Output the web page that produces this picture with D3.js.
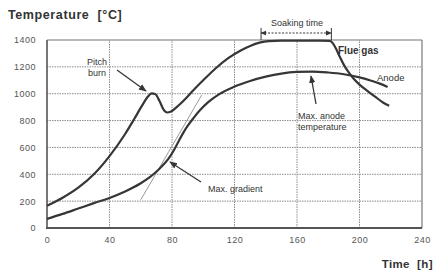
<!DOCTYPE html>
<html><head><meta charset="utf-8">
<script src="https://cdn.jsdelivr.net/npm/d3@7"></script>
<style>body{margin:0;background:#fff}svg{display:block;font-family:"Liberation Sans",Arial,sans-serif}text{white-space:pre}</style>
</head><body><svg id="c" width="435" height="276"></svg>
<script>
const xTicks = [0, 40, 80, 120, 160, 200, 240];
const yTicks = [0, 200, 400, 600, 800, 1000, 1200, 1400];
const flueT = [0,10,20,30,40,50,56,61,64,67,69.5,72,75,77,79,83,88,94,100,108,116,124,130,136,142,150,175,181,183,185,187,190,193,196,200,205,210,215,219];
const flueV = [165,225,300,400,535,700,815,915,970,1003,995,945,875,860,865,900,955,1030,1100,1190,1265,1322,1355,1380,1392,1395,1395,1393,1375,1335,1285,1215,1160,1115,1068,1022,978,935,910];
const anodeT = [0,10,20,30,40,50,60,66,71,75,78,81,84,87,90,94,98,103,110,120,130,140,150,160,170,180,190,200,208,213,218];
const anodeV = [68,105,145,185,224,272,333,380,430,478,520,575,640,705,760,822,878,935,995,1053,1095,1127,1150,1162,1165,1158,1145,1122,1095,1075,1050];
const tangentT = [60, 99];
const tangentV = [210, 990];
const soakT = [137, 182];

const svg = d3.select("#c");
const x = d3.scaleLinear().domain([0,240]).range([47,422]);
const y = d3.scaleLinear().domain([0,1400]).range([228,40]);
const ink = "#363636";

const g = svg.append("g");
g.selectAll(".vg").data(xTicks.slice(1,-1)).enter().append("line")
  .attr("x1",d=>x(d)).attr("x2",d=>x(d)).attr("y1",y(0)).attr("y2",y(1400))
  .attr("stroke","#8a8a8a").attr("stroke-width",1).attr("stroke-dasharray","1.5,1");
g.selectAll(".hg").data(yTicks.slice(1,-1)).enter().append("line")
  .attr("x1",x(0)).attr("x2",x(240)).attr("y1",d=>y(d)).attr("y2",d=>y(d))
  .attr("stroke","#8a8a8a").attr("stroke-width",1).attr("stroke-dasharray","1.5,1");
g.append("line").attr("x1",x(0)).attr("x2",x(240)).attr("y1",y(1400)).attr("y2",y(1400)).attr("stroke","#777").attr("stroke-width",1.2);
g.append("line").attr("x1",x(240)).attr("x2",x(240)).attr("y1",y(0)).attr("y2",y(1400)).attr("stroke","#777").attr("stroke-width",1.2);
g.append("line").attr("x1",x(0)).attr("x2",x(0)).attr("y1",y(0)).attr("y2",y(1400)).attr("stroke","#555").attr("stroke-width",1.6);
g.append("line").attr("x1",x(0)-1).attr("x2",x(240)).attr("y1",y(0)).attr("y2",y(0)).attr("stroke","#555").attr("stroke-width",1.8);

const xa = svg.append("g").attr("transform",`translate(0,${y(0)})`)
  .call(d3.axisBottom(x).tickValues(xTicks).tickSize(0).tickPadding(9).tickFormat(d3.format("d")));
const ya = svg.append("g").attr("transform",`translate(${x(0)},0)`)
  .call(d3.axisLeft(y).tickValues(yTicks).tickSize(0).tickPadding(11).tickFormat(d3.format("d")));
[xa,ya].forEach(a=>{a.select(".domain").remove();a.selectAll("text").attr("fill","#555").style("font-size","9px").style("letter-spacing","0.5px").style("font-family","'Liberation Sans',Arial,sans-serif");});

svg.append("line").attr("x1",x(tangentT[0])).attr("y1",y(tangentV[0])).attr("x2",x(tangentT[1])).attr("y2",y(tangentV[1]))
  .attr("stroke","#9a9a9a").attr("stroke-width",1);

const line = d3.line().curve(d3.curveMonotoneX);
svg.append("path").attr("d",line(flueT.map((t,i)=>[x(t),y(flueV[i])])))
  .attr("fill","none").attr("stroke",ink).attr("stroke-width",2.2).attr("stroke-linejoin","round");
svg.append("path").attr("d",line(anodeT.map((t,i)=>[x(t),y(anodeV[i])])))
  .attr("fill","none").attr("stroke",ink).attr("stroke-width",2.2).attr("stroke-linejoin","round");

const defs = svg.append("defs");
defs.append("marker").attr("id","ah").attr("viewBox","0 0 10 10").attr("refX",9).attr("refY",5)
  .attr("markerWidth",6).attr("markerHeight",6).attr("orient","auto-start-reverse")
  .append("path").attr("d","M0,1L10,5L0,9Z").attr("fill",ink);

function arrow(x1,y1,x2,y2,w){
  svg.append("line").attr("x1",x1).attr("y1",y1).attr("x2",x2).attr("y2",y2)
    .attr("stroke",ink).attr("stroke-width",w||1.3).attr("marker-end","url(#ah)");
}
arrow(117,70,146,91);
arrow(316,104,311,76);
arrow(201,182,170,162);

const sy = 33;
svg.append("line").attr("x1",x(soakT[0])).attr("x2",x(soakT[1])).attr("y1",sy).attr("y2",sy)
  .attr("stroke",ink).attr("stroke-width",1).attr("stroke-dasharray","2,1.5")
  .attr("marker-start","url(#ah)").attr("marker-end","url(#ah)");
soakT.forEach(t=>svg.append("line").attr("x1",x(t)).attr("x2",x(t)).attr("y1",28).attr("y2",40)
  .attr("stroke",ink).attr("stroke-width",1));

function txt(s,xx,yy,size,weight,anchor,ls){
  return svg.append("text").attr("x",xx).attr("y",yy).attr("fill","#333")
    .style("font-size",size+"px").style("font-weight",weight||"normal")
    .style("letter-spacing",(ls||0)+"px")
    .attr("text-anchor",anchor||"start").text(s);
}
txt("Temperature  [°C]",8,19,12.5,"bold","start",0.6);
txt("Time  [h]",433,268,11.5,"bold","end",0.4);
txt("Soaking time",297,26,9,"normal","middle");
txt("Pitch",97,65,9,"normal","middle");
txt("burn",97,76,9,"normal","middle");
txt("Flue gas",338,54,10,"bold");
txt("Anode",377,81,9.5,"normal");
txt("Max. anode",298,119,9,"normal");
txt("temperature",298,130,9,"normal");
txt("Max. gradient",208,192,9,"normal");
</script></body></html>
